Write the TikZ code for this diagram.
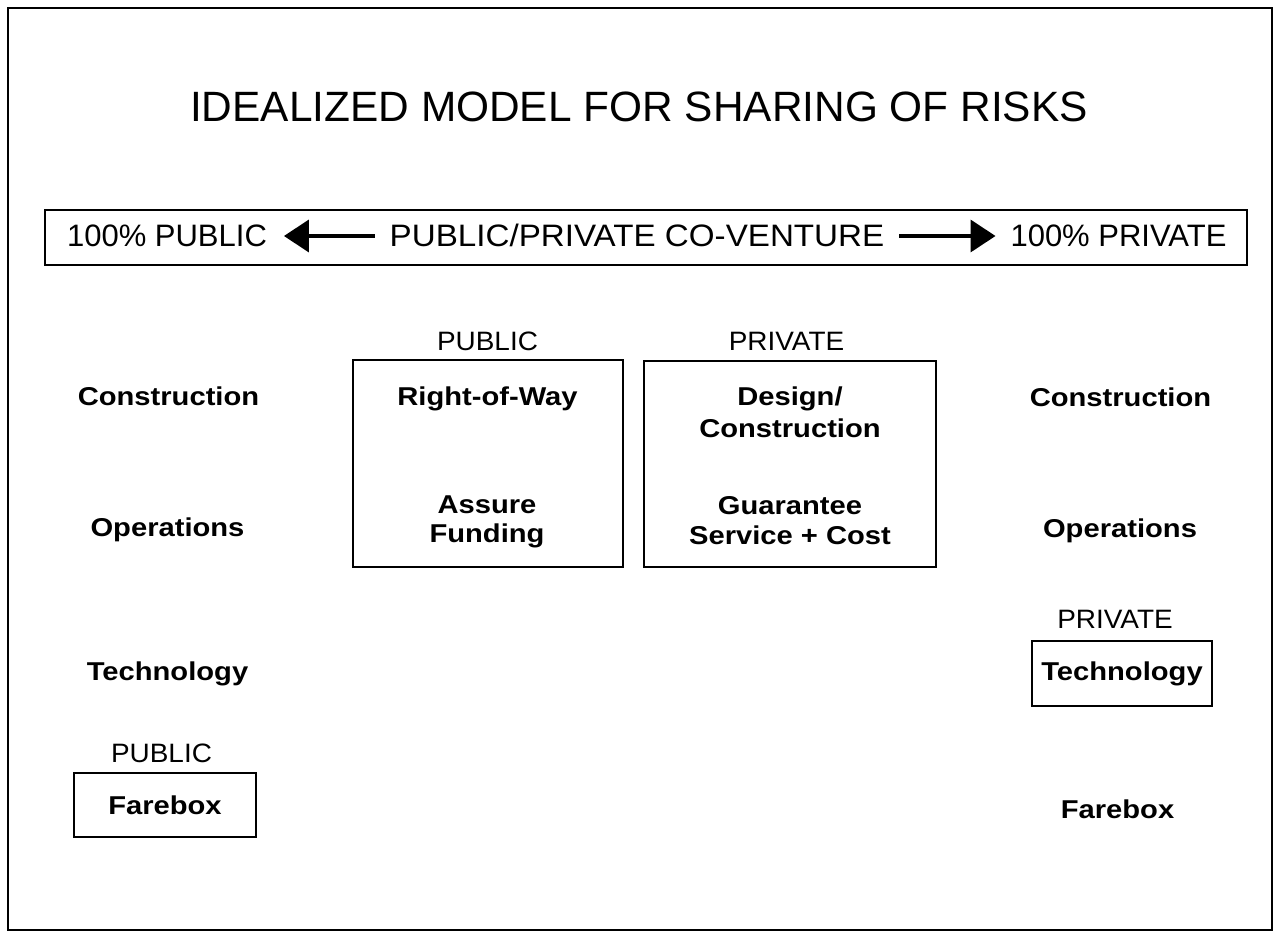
\documentclass[tikz,border=0pt]{standalone}
\usepackage{fontspec}
\setmainfont{Liberation Sans}
\newfontfamily\itemfont[FakeStretch=1.13]{Liberation Sans}
\newfontfamily\capfont[FakeStretch=1.05]{Liberation Sans}
\newfontfamily\midfont[FakeStretch=1.07]{Liberation Sans}
\usetikzlibrary{arrows.meta}
\tikzset{
  every node/.style={inner sep=0pt, outer sep=0pt},
  ttl/.style={font=\fontsize{21.2}{25}\selectfont, anchor=base},
  ban/.style={font=\fontsize{15.5}{18}\selectfont, anchor=base, text height=11pt, text depth=0pt},
  banmid/.style={font=\midfont\fontsize{15.5}{18}\selectfont, anchor=base, text height=11pt, text depth=0pt},
  caplbl/.style={font=\capfont\fontsize{13.3}{16}\selectfont, anchor=base},
  itemf/.style={font=\itemfont\bfseries\fontsize{12.9}{15}\selectfont},
  item/.style={itemf, anchor=base},
  riskbox/.style={draw, line width=1.3pt},
  bigarrow/.style={line width=1.8pt, -{Triangle[length=12.5pt,width=16pt]}},
}
\begin{document}
\begin{tikzpicture}[x=0.5pt,y=-0.5pt]
\useasboundingbox (0,0) rectangle (1276,936);
% outer frame
\draw[line width=1pt] (8,8) rectangle (1272,930);

% title
\node[ttl] (title) at (639,122) {IDEALIZED MODEL FOR SHARING OF RISKS};

% banner
\node[draw, line width=1.2pt, minimum width=601pt, minimum height=27.5pt] (banner) at (646,237.5) {};
\node[ban] (pub) at (167,247) {100\% PUBLIC};
\node[banmid] (mid) at (637,247) {PUBLIC/PRIVATE CO-VENTURE};
\node[ban] (priv) at (1118.5,247) {100\% PRIVATE};
\draw[bigarrow, shorten <=7.5pt, shorten >=8.5pt] (mid.west) -- (pub.east);
\draw[bigarrow, shorten <=7.5pt, shorten >=7.5pt] (mid.east) -- (priv.west);

% central boxes
\node[caplbl] (publbl) at (487.5,351) {PUBLIC};
\node[caplbl] (privlbl) at (786.5,351) {PRIVATE};
\node[riskbox, minimum width=135pt, minimum height=103.5pt] (pubbox) at (488,463.5) {};
\node[riskbox, minimum width=146pt, minimum height=103pt] (privbox) at (790,464) {};
\node[item] (row) at (487.5,406) {Right-of-Way};
\node[item] (assure) at (487,514) {Assure};
\node[item] (funding) at (487,543) {Funding};
\node[item] (design) at (790,406) {Design/};
\node[item] (constr) at (790,438) {Construction};
\node[item] (guar) at (790,515) {Guarantee};
\node[item] (serv) at (790,545) {Service + Cost};

% left column
\node[item] (lcon) at (168.5,406) {Construction};
\node[item] (lops) at (167.5,537) {Operations};
\node[item] (ltech) at (167.5,680) {Technology};
\node[caplbl] (lpub) at (161.5,762) {PUBLIC};
\node[riskbox, minimum width=91pt, minimum height=32pt, itemf] (lfare) at (165,805) {Farebox};

% right column
\node[item] (rcon) at (1120.5,407) {Construction};
\node[item] (rops) at (1120,538) {Operations};
\node[caplbl] (rpriv) at (1115,628) {PRIVATE};
\node[riskbox, minimum width=90pt, minimum height=32.5pt, itemf] (rtech) at (1122,673.5) {Technology};
\node[item] (rfare) at (1117.5,818) {Farebox};
\end{tikzpicture}
\end{document}
